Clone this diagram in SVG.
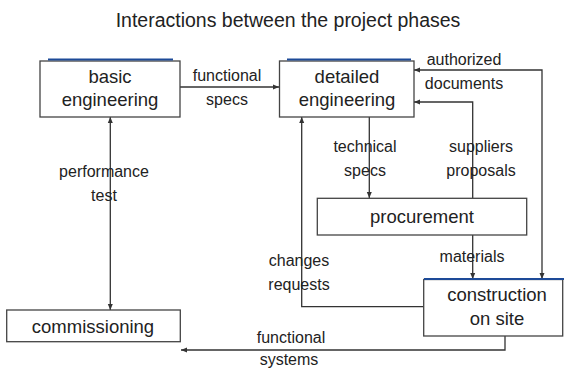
<svg xmlns="http://www.w3.org/2000/svg" width="564" height="368" viewBox="0 0 564 368">
  <style>
    .box { fill: #ffffff; stroke: #444444; stroke-width: 1.3; }
    .accent { stroke: #1d4a98; stroke-width: 2.2; }
    .node-text { font-family: "Liberation Sans", Arial, sans-serif; font-size: 18.5px; fill: #222222; text-anchor: middle; }
    .label { font-family: "Liberation Sans", Arial, sans-serif; font-size: 16px; fill: #222222; text-anchor: middle; }
    .title { font-family: "Liberation Sans", Arial, sans-serif; font-size: 19.5px; fill: #222222; text-anchor: middle; }
    .link { fill: none; stroke: #333333; stroke-width: 1.3; }
  </style>
  <defs>
    <marker id="arrow" viewBox="0 0 6 6" refX="6" refY="3" markerWidth="6" markerHeight="6" markerUnits="userSpaceOnUse" orient="auto-start-reverse">
      <path d="M0,0.5 L6,3 L0,5.5 Z" fill="#333333"/>
    </marker>
  </defs>

  <rect width="564" height="368" fill="#ffffff"/>

  <text class="title" x="288" y="27">Interactions between the project phases</text>

  <!-- connectors -->
  <g id="connectors">
    <!-- functional specs -->
    <path class="link" d="M175,87 H279" marker-end="url(#arrow)"/>
    <!-- authorized documents -->
    <path class="link" d="M414,70 H542 V279" marker-start="url(#arrow)" marker-end="url(#arrow)"/>
    <!-- suppliers proposals -->
    <path class="link" d="M472.7,198 V102 H414" marker-end="url(#arrow)"/>
    <!-- technical specs -->
    <path class="link" d="M369.3,117 V198" marker-end="url(#arrow)"/>
    <!-- changes requests -->
    <path class="link" d="M423.7,306.7 H301.7 V117" marker-end="url(#arrow)"/>
    <!-- materials -->
    <path class="link" d="M472.7,235 V279" marker-end="url(#arrow)"/>
    <!-- performance test -->
    <path class="link" d="M110.3,117 V310" marker-start="url(#arrow)" marker-end="url(#arrow)"/>
    <!-- functional systems -->
    <path class="link" d="M505,336 V350 H181" marker-end="url(#arrow)"/>

    <text class="label" x="227" y="81">functional</text>
    <text class="label" x="227" y="105">specs</text>
    <text class="label" x="464" y="65">authorized</text>
    <text class="label" x="464" y="89">documents</text>
    <text class="label" x="365" y="152">technical</text>
    <text class="label" x="365" y="176">specs</text>
    <text class="label" x="481" y="152">suppliers</text>
    <text class="label" x="481" y="176">proposals</text>
    <text class="label" x="472" y="262">materials</text>
    <text class="label" x="299" y="266">changes</text>
    <text class="label" x="299" y="290">requests</text>
    <text class="label" x="104" y="177">performance</text>
    <text class="label" x="104" y="201">test</text>
    <text class="label" x="291" y="343">functional</text>
    <text class="label" x="289" y="365">systems</text>
  </g>

  <g id="basic-engineering">
    <rect class="box" x="40" y="61" width="140" height="56"/>
    <line class="accent" x1="48" y1="59.5" x2="173" y2="59.5"/>
    <text class="node-text" x="110" y="83">basic</text>
    <text class="node-text" x="110" y="106">engineering</text>
  </g>

  <g id="detailed-engineering">
    <rect class="box" x="279.5" y="61" width="134.5" height="56"/>
    <line class="accent" x1="287" y1="59.5" x2="411" y2="59.5"/>
    <text class="node-text" x="347" y="83">detailed</text>
    <text class="node-text" x="347" y="106">engineering</text>
  </g>

  <g id="procurement">
    <rect class="box" x="317.3" y="198.3" width="209.4" height="36.7"/>
    <text class="node-text" x="422" y="223">procurement</text>
  </g>

  <g id="construction-on-site">
    <rect class="box" x="423.7" y="279.5" width="139" height="56.5"/>
    <line class="accent" x1="424" y1="279" x2="564" y2="279"/>
    <text class="node-text" x="497" y="301">construction</text>
    <text class="node-text" x="497" y="325">on site</text>
  </g>

  <g id="commissioning">
    <rect class="box" x="6.7" y="310" width="173.6" height="31.7"/>
    <text class="node-text" x="93" y="333">commissioning</text>
  </g>
</svg>
